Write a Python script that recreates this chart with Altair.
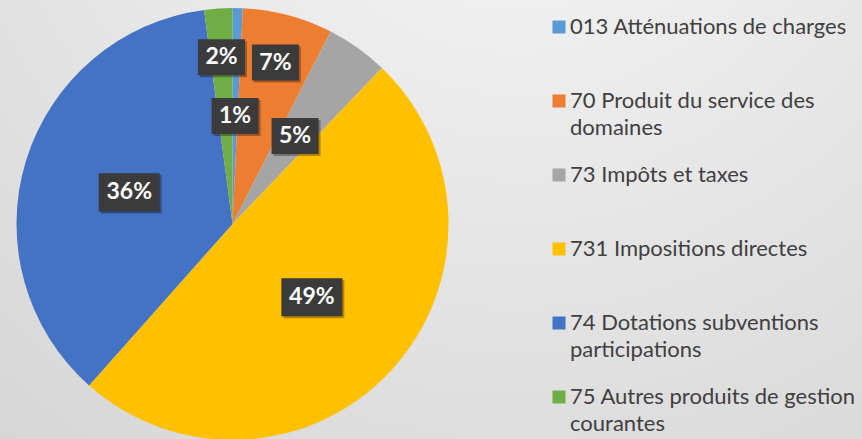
import altair as alt
import pandas as pd

# ---------------- data ----------------
categories = [
    "013 Atténuations de charges",
    "70 Produit du service des|domaines",
    "73 Impôts et taxes",
    "731 Impositions directes",
    "74 Dotations subventions|participations",
    "75 Autres produits de gestion|courantes",
]
shares = [0.76, 6.75, 4.65, 49.4, 36.34, 2.1]
colors = ["#5B9BD5", "#ED7D31", "#A5A5A5", "#FFC000", "#4472C4", "#70AD47"]

df = pd.DataFrame({"cat": categories, "value": shares, "idx": list(range(len(categories)))})

# ---------------- layout ----------------
W, H = 862, 439
CX, CY, R = 232.5, 224, 216
R_IN, R_OUT = 108, 167
outer_idx = [1, 5]          # labels that Excel pushed outwards
LEG_X, LEG_Y, LINE2 = 548, 16, 27
ROW_PAD = 52

path_narrow = "M-1,-0.766L1,-0.766L1,0.766L-1,0.766Z"
path_wide = "M-1,-0.623L1,-0.623L1,0.623L-1,0.623Z"

legend_common = dict(
    orient="none", legendX=LEG_X, title=None,
    symbolSize=169, symbolStrokeWidth=0,
    labelFont="Lato", labelFontSize=22, labelColor="#404040",
    labelLimit=500, labelOffset=0, rowPadding=ROW_PAD,
)

bg = alt.Chart(alt.Data(values=[{}])).mark_rect(
    fill=alt.RadialGradient(
        gradient="radial",
        stops=[alt.GradientStop(color="#f8f8f8", offset=0),
               alt.GradientStop(color="#cccccc", offset=1)],
        x1=0.6, y1=0.0, r1=0.0, x2=0.6, y2=0.0, r2=1.25,
    )
).encode(x=alt.value(0), x2=alt.value(W), y=alt.value(0), y2=alt.value(H))

base = alt.Chart(df)

arc = base.mark_arc(outerRadius=R).encode(
    theta=alt.Theta("value:Q", stack=True),
    order=alt.Order("idx:Q"),
    color=alt.Color(
        "cat:N",
        scale=alt.Scale(domain=categories, range=colors),
        legend=alt.Legend(
            legendY=LEG_Y, symbolType="square",
            labelExpr="split(datum.label, '|')[0]",
            **legend_common,
        ),
    ),
    x=alt.value(CX),
    y=alt.value(CY),
)

# second lines of the wrapped legend labels
legend2 = base.transform_calculate(cat_b="datum.cat").mark_point(opacity=0).encode(
    shape=alt.Shape(
        "cat_b:N",
        scale=alt.Scale(domain=categories, range=["square"] * len(categories)),
        legend=alt.Legend(
            legendY=LEG_Y + LINE2, symbolOpacity=0, symbolType="square",
            labelExpr="indexof(datum.label, '|') >= 0 ? split(datum.label, '|')[1] : ' '",
            **legend_common,
        ),
    ),
    x=alt.value(0), y=alt.value(0),
)

lab = base.transform_joinaggregate(total="sum(value)").transform_window(
    cum="sum(value)", sort=[alt.SortField("idx")], frame=[None, 0]
).transform_calculate(
    mid="(datum.cum - datum.value / 2) / datum.total * 2 * PI",
    lr=f"indexof({outer_idx}, datum.idx) >= 0 ? {R_OUT} : {R_IN}",
).transform_calculate(
    lx=f"{CX} + datum.lr * sin(datum.mid)",
    ly=f"{CY} - datum.lr * cos(datum.mid)",
    pctn="round(datum.value / datum.total * 100)",
).transform_calculate(
    pct="datum.pctn + '%'",
    wide="datum.pctn >= 10",
)

xenc = alt.X("lx:Q", scale=alt.Scale(domain=[0, W], nice=False, zero=False), axis=None)
yenc = alt.Y("ly:Q", scale=alt.Scale(domain=[0, H], nice=False, zero=False, reverse=True), axis=None)
shape_enc = alt.condition("datum.wide", alt.value(path_wide), alt.value(path_narrow))
size_enc = alt.condition("datum.wide", alt.value(3721), alt.value(2209))

shadow = lab.mark_point(filled=True, fill="#000000", opacity=0.3, strokeWidth=0,
                        xOffset=2, yOffset=2).encode(x=xenc, y=yenc, shape=shape_enc, size=size_enc)
box = lab.mark_point(filled=True, fill="#3b3b3b", opacity=1, strokeWidth=0).encode(
    x=xenc, y=yenc, shape=shape_enc, size=size_enc)
txt = lab.mark_text(font="Lato", fontWeight="bold", fontSize=23, color="white",
                    align="center", baseline="middle").encode(x=xenc, y=yenc, text="pct:N")

chart = alt.layer(bg, arc, legend2, shadow, box, txt).properties(
    width=W, height=H, padding=0,
    autosize=alt.AutoSizeParams(type="none"),
).resolve_legend(color="independent", shape="independent").configure_view(
    stroke=None
).configure(background="#e6e6e6")

chart.save("out.html", embed_options={"renderer": "svg", "actions": False})
